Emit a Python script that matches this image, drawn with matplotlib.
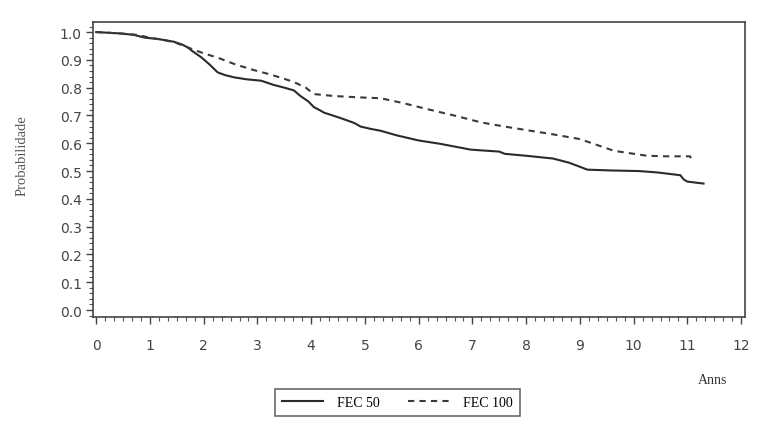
import matplotlib
matplotlib.use("Agg")
import matplotlib.pyplot as plt
from matplotlib.ticker import MultipleLocator

# FEC 50 (solid) Kaplan-Meier estimate
fec50_t = [0.0, 0.45, 0.7, 0.9, 1.15, 1.45, 1.6, 1.7, 1.8, 1.95, 2.1, 2.26, 2.4, 2.57, 2.8, 3.07, 3.3,
           3.5, 3.68, 3.8, 3.95, 4.05, 4.15, 4.24, 4.4, 4.6, 4.8, 4.92, 5.1, 5.29, 5.6, 6.0, 6.4,
           6.97, 7.5, 7.6, 8.0, 8.5, 8.8, 9.14, 9.6, 10.1, 10.44, 10.87, 10.93, 11.0, 11.3]
fec50_s = [1.0, 0.995, 0.99, 0.98, 0.975, 0.965, 0.955, 0.945, 0.93, 0.91, 0.885, 0.855, 0.845, 0.837, 0.83, 0.825, 0.81,
           0.80, 0.79, 0.77, 0.75, 0.73, 0.72, 0.71, 0.70, 0.687, 0.673, 0.66, 0.652, 0.645, 0.628, 0.61, 0.598,
           0.577, 0.57, 0.562, 0.555, 0.545, 0.53, 0.505, 0.502, 0.5, 0.495, 0.485, 0.47, 0.462, 0.455]

# FEC 100 (dashed) Kaplan-Meier estimate
fec100_t = [0.0, 0.45, 0.75, 1.0, 1.3, 1.5, 1.7, 1.95, 2.3, 2.57, 2.9, 3.19, 3.45, 3.68, 3.9, 4.05, 4.42,
            4.9, 5.29, 5.7, 6.22, 6.7, 7.16, 7.6, 8.08, 8.5, 9.0, 9.3, 9.63, 9.9, 10.25, 10.6, 11.05, 11.1]
fec100_s = [1.0, 0.995, 0.99, 0.98, 0.97, 0.96, 0.945, 0.927, 0.905, 0.885, 0.865, 0.85, 0.835, 0.82, 0.80, 0.777, 0.77,
            0.765, 0.762, 0.745, 0.72, 0.698, 0.675, 0.66, 0.645, 0.632, 0.615, 0.595, 0.573, 0.565, 0.555, 0.553, 0.553, 0.53]

labels = ["FEC 50", "FEC 100"]
x_ticks = list(range(0, 13))
y_ticks = [round(0.1 * i, 1) for i in range(11)]

fig = plt.figure(figsize=(7.64, 4.27), dpi=100)
ax = fig.add_axes([0.1217, 0.2553, 0.8533, 0.6907])

ax.plot(fec50_t, fec50_s, color="#2b2b2b", lw=1.5, label=labels[0])
ax.plot(fec100_t, fec100_s, color="#3a3a3a", lw=1.5,
        linestyle=(0, (3.0, 2.5)), label=labels[1])

ax.set_xlim(-0.06, 12.07)
ax.set_ylim(-0.025, 1.036)
ax.set_xticks(x_ticks)
ax.set_xticklabels([str(v) for v in x_ticks])
ax.set_yticks(y_ticks)
ax.set_yticklabels([f"{v:.1f}" for v in y_ticks])
ax.xaxis.set_minor_locator(MultipleLocator(1 / 6))
ax.yaxis.set_minor_locator(MultipleLocator(0.02))

for s in ax.spines.values():
    s.set_color("#444444")
    s.set_linewidth(1.2)

ax.tick_params(axis="both", which="major", direction="out", length=5, width=1.0,
               color="#444444", labelsize=10, labelcolor="#444444")
ax.tick_params(axis="both", which="minor", direction="out", length=3, width=0.8, color="#555555")
ax.tick_params(axis="x", which="major", pad=10)
ax.tick_params(axis="y", which="major", pad=3)

serif = ["Liberation Serif", "DejaVu Serif"]
fig.text(0.029, 0.635, "Probabilidade", rotation=90, ha="center", va="center",
         fontsize=10.5, family=serif, color="#555555")
fig.text(0.932, 0.11, "Anns", ha="center", va="center", fontsize=10, family=serif, color="#333333")

leg = fig.legend(loc="center", bbox_to_anchor=(0.52, 0.056), ncol=2, frameon=True, fancybox=False,
                 prop={"family": serif, "size": 10}, handlelength=3.0, columnspacing=2.0,
                 borderpad=0.5, handletextpad=1.0)
leg.get_frame().set_edgecolor("#444444")
leg.get_frame().set_linewidth(1.2)

fig.savefig("out.png", dpi=100)
